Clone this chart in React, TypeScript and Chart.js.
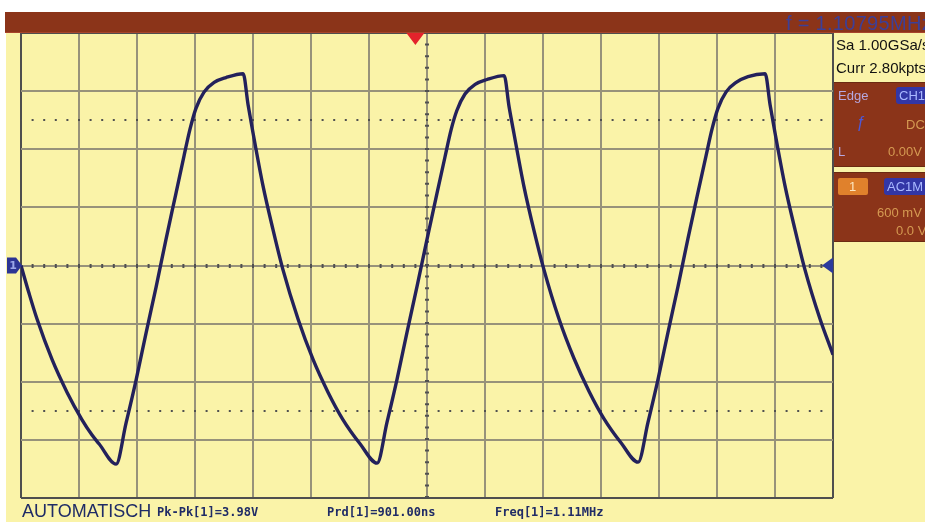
import React, { useEffect, useRef } from "react";
import { Chart, registerables } from "chart.js";

Chart.register(...registerables);

// Time base: 200 ns/div, 14 divisions. Vertical: 600 mV/div, 8 divisions.
const timeTicksNs = [-1400, -1200, -1000, -800, -600, -400, -200, 0, 200, 400, 600, 800, 1000, 1200, 1400];
const voltTicks = [-2.4, -1.8, -1.2, -0.6, 0, 0.6, 1.2, 1.8, 2.4];
const dottedLevelsV = [1.5, -1.5];
const triggerTimeNs = -40;
const minorStepNs = 40;

// Trace samples (time in ns, voltage in V)
const traceTimeNs = [
  -1400, -1372, -1345, -1293, -1241, -1190, -1155, -1131, -1072,
  -1038, -1003, -969, -934, -900, -866, -838, -817, -797, -769, -734, -693, -634,
  -617, -600, -566, -531, -497, -445, -393, -341, -290, -231, -172,
  -138, -103, -69, -34, 0, 34, 62, 83, 103, 131, 166, 207, 266,
  283, 300, 334, 369, 403, 455, 507, 559, 610, 669, 728,
  762, 797, 831, 866, 900, 934, 962, 983, 1003, 1031, 1066, 1107, 1166,
  1183, 1200, 1234, 1269, 1303, 1355, 1400,
];
const traceVolts = [
  0.0, -0.29, -0.55, -0.97, -1.31, -1.59, -1.75, -1.84, -2.05,
  -1.63, -1.18, -0.7, -0.22, 0.27, 0.74, 1.13, 1.41, 1.62, 1.79, 1.89, 1.94, 1.98,
  1.66, 1.37, 0.83, 0.37, -0.04, -0.55, -0.97, -1.31, -1.59, -1.84, -2.04,
  -1.62, -1.17, -0.69, -0.21, 0.27, 0.74, 1.12, 1.4, 1.6, 1.77, 1.87, 1.92, 1.96,
  1.64, 1.36, 0.82, 0.36, -0.04, -0.55, -0.96, -1.3, -1.58, -1.83, -2.03,
  -1.62, -1.17, -0.69, -0.21, 0.28, 0.75, 1.13, 1.41, 1.62, 1.79, 1.89, 1.95, 1.98,
  1.66, 1.37, 0.83, 0.37, -0.04, -0.55, -0.92,
];

const topReadout = "f = 1.10795MHz";
const sampleRate = "Sa 1.00GSa/s";
const memDepth = "Curr 2.80kpts";
const modeLabel = "AUTOMATISCH";
const measurementLabels = ["Pk-Pk[1]=3.98V", "Prd[1]=901.00ns", "Freq[1]=1.11MHz"];
const measurementLeft = [157, 327, 495];

const YELLOW = "#faf3a8";
const BROWN = "#8b3419";
const GRID = "#97927a";
const BORDER = "#4e4e4e";

const scopeOverlay = {
  id: "scopeOverlay",
  beforeDatasetsDraw(chart: any) {
    const { ctx, chartArea: a, scales } = chart;
    const x = scales.x;
    const y = scales.y;
    const minorPx = Math.abs(x.getPixelForValue(minorStepNs) - x.getPixelForValue(0));
    ctx.save();
    ctx.strokeStyle = "#505050";
    ctx.lineCap = "butt";
    ctx.lineWidth = 2;
    ctx.setLineDash([2, minorPx - 2]);
    ctx.lineDashOffset = 1;
    for (const v of dottedLevelsV) {
      const py = Math.round(y.getPixelForValue(v));
      ctx.beginPath();
      ctx.moveTo(a.left, py);
      ctx.lineTo(a.right, py);
      ctx.stroke();
    }
    ctx.lineWidth = 4;
    const y0 = Math.round(y.getPixelForValue(0));
    ctx.beginPath();
    ctx.moveTo(a.left, y0);
    ctx.lineTo(a.right, y0);
    ctx.stroke();
    const x0 = Math.round(x.getPixelForValue(0));
    ctx.beginPath();
    ctx.moveTo(x0, a.top);
    ctx.lineTo(x0, a.bottom);
    ctx.stroke();
    ctx.restore();
  },
  afterDatasetsDraw(chart: any) {
    const { ctx, chartArea: a, scales } = chart;
    const x = scales.x;
    const y = scales.y;
    const y0 = y.getPixelForValue(0);
    ctx.save();
    const tx = x.getPixelForValue(triggerTimeNs);
    ctx.fillStyle = "#e3232b";
    ctx.beginPath();
    ctx.moveTo(tx - 9, a.top);
    ctx.lineTo(tx + 9, a.top);
    ctx.lineTo(tx, a.top + 12);
    ctx.closePath();
    ctx.fill();
    ctx.fillStyle = "#2c3494";
    ctx.beginPath();
    ctx.moveTo(a.left - 14, y0 - 8);
    ctx.lineTo(a.left - 5, y0 - 8);
    ctx.lineTo(a.left + 1, y0);
    ctx.lineTo(a.left - 5, y0 + 8);
    ctx.lineTo(a.left - 14, y0 + 8);
    ctx.closePath();
    ctx.fill();
    ctx.fillStyle = "#9aa6e8";
    ctx.font = "bold 11px 'DejaVu Sans'";
    ctx.textAlign = "center";
    ctx.textBaseline = "middle";
    ctx.fillText("1", a.left - 8, y0 + 1);
    ctx.fillStyle = "#2c3a9c";
    ctx.beginPath();
    ctx.moveTo(a.right, y0 - 8);
    ctx.lineTo(a.right, y0 + 8);
    ctx.lineTo(a.right - 11, y0);
    ctx.closePath();
    ctx.fill();
    ctx.restore();
  },
};

function gridColor(count: number) {
  return (c: any) => (c.index === 0 || c.index === count - 1 ? BORDER : GRID);
}

export default function App() {
  const canvasRef = useRef<HTMLCanvasElement | null>(null);

  useEffect(() => {
    if (!canvasRef.current) return;
    const chart = new Chart(canvasRef.current, {
      type: "line",
      data: {
        datasets: [
          {
            data: traceTimeNs.map((t, i) => ({ x: t, y: traceVolts[i] })),
            borderColor: "#23215b",
            borderWidth: 3.4,
            pointRadius: 0,
            fill: false,
            cubicInterpolationMode: "monotone",
          },
        ],
      },
      options: {
        responsive: false,
        animation: false,
        events: [],
        layout: { padding: { left: 21, top: 33, right: 92, bottom: 24 } },
        plugins: { legend: { display: false }, tooltip: { enabled: false } },
        scales: {
          x: {
            type: "linear",
            min: timeTicksNs[0],
            max: timeTicksNs[timeTicksNs.length - 1],
            afterBuildTicks: (s: any) => {
              s.ticks = timeTicksNs.map((v) => ({ value: v }));
            },
            ticks: { display: false },
            grid: { color: gridColor(timeTicksNs.length), lineWidth: 2, drawTicks: false },
            border: { display: false },
          },
          y: {
            type: "linear",
            min: voltTicks[0],
            max: voltTicks[voltTicks.length - 1],
            afterBuildTicks: (s: any) => {
              s.ticks = voltTicks.map((v) => ({ value: v }));
            },
            ticks: { display: false },
            grid: { color: gridColor(voltTicks.length), lineWidth: 2, drawTicks: false },
            border: { display: false },
          },
        },
      },
      plugins: [scopeOverlay],
    } as any);
    return () => chart.destroy();
  }, []);

  const abs = (s: React.CSSProperties): React.CSSProperties => ({ position: "absolute", ...s });
  const panelText: React.CSSProperties = {
    position: "absolute",
    fontFamily: "'Liberation Sans', Arial, sans-serif",
    fontSize: 13,
    lineHeight: "16px",
    whiteSpace: "nowrap",
  };

  return (
    <div style={abs({ left: 0, top: 0, width: 925, height: 522, overflow: "hidden", background: "#ffffff" })}>
      <div style={abs({ left: 6, top: 12, width: 919, height: 510, background: YELLOW })} />
      <canvas ref={canvasRef} width={925} height={522} style={abs({ left: 0, top: 0, width: 925, height: 522 })} />
      <div style={abs({ left: 5, top: 12, width: 920, height: 21, background: BROWN, borderBottom: "1px solid #a8442a", boxSizing: "border-box" })} />
      <div style={abs({ left: 786, top: 12, height: 21, lineHeight: "22px", fontFamily: "'Liberation Sans', Arial, sans-serif", fontSize: 20, letterSpacing: 0.3, color: "#3c3f98", whiteSpace: "nowrap" })}>
        {topReadout}
      </div>
      <div style={{ ...panelText, left: 836, top: 37, fontSize: 15, color: "#111" }}>{sampleRate}</div>
      <div style={{ ...panelText, left: 836, top: 60, fontSize: 15, color: "#111" }}>{memDepth}</div>
      <div style={abs({ left: 834, top: 82, width: 91, height: 85, background: BROWN, borderTop: "1px solid #6b2a12", borderBottom: "1px solid #6b2a12", boxSizing: "border-box" })} />
      <div style={{ ...panelText, left: 838, top: 88, color: "#b6a8e0" }}>Edge</div>
      <div style={abs({ left: 896, top: 87, width: 32, height: 17, background: "#3236a6", borderRadius: 3 })} />
      <div style={{ ...panelText, left: 899, top: 88, color: "#a9b8ff" }}>CH1</div>
      <div style={{ ...panelText, left: 856, top: 115, fontSize: 16, fontStyle: "italic", color: "#4c58d8" }}>ƒ</div>
      <div style={{ ...panelText, left: 906, top: 117, color: "#d59a52" }}>DC</div>
      <div style={{ ...panelText, left: 838, top: 144, color: "#b6a8e0" }}>L</div>
      <div style={{ ...panelText, left: 888, top: 144, color: "#d59a52" }}>0.00V</div>
      <div style={abs({ left: 834, top: 172, width: 91, height: 70, background: BROWN, borderTop: "1px solid #6b2a12", borderBottom: "1px solid #6b2a12", boxSizing: "border-box" })} />
      <div style={abs({ left: 838, top: 178, width: 30, height: 17, background: "#e0812c", borderRadius: 2 })} />
      <div style={{ ...panelText, left: 849, top: 179, color: "#fde6c0" }}>1</div>
      <div style={abs({ left: 884, top: 178, width: 44, height: 17, background: "#3236a6", borderRadius: 3 })} />
      <div style={{ ...panelText, left: 887, top: 179, color: "#a9b8ff" }}>AC1M</div>
      <div style={{ ...panelText, left: 877, top: 205, color: "#d59a52" }}>600 mV</div>
      <div style={{ ...panelText, left: 896, top: 223, color: "#d59a52" }}>0.0 V</div>
      <div style={abs({ left: 22, top: 500, height: 22, lineHeight: "22px", fontFamily: "'Liberation Sans', Arial, sans-serif", fontSize: 18, color: "#1f2b66", whiteSpace: "nowrap" })}>
        {modeLabel}
      </div>
      {measurementLabels.map((m, i) => (
        <div
          key={m}
          style={abs({ left: measurementLeft[i], top: 503, height: 18, lineHeight: "18px", fontFamily: "'DejaVu Sans Mono', monospace", fontWeight: "bold", fontSize: 12, color: "#1f2b66", whiteSpace: "nowrap" })}
        >
          {m}
        </div>
      ))}
    </div>
  );
}
